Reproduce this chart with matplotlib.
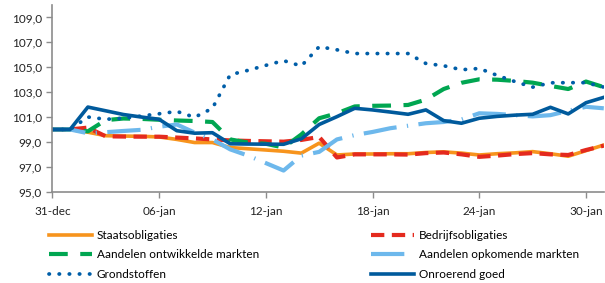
import matplotlib

matplotlib.use("Agg")
import matplotlib.pyplot as plt

# days since 31-dec
days = list(range(32))
tick_days = [0, 6, 12, 18, 24, 30]
tick_labels = ["31-dec", "06-jan", "12-jan", "18-jan", "24-jan", "30-jan"]

staatsobligaties = [100.0, 100.0, 99.78, 99.5, 99.47, 99.45, 99.4, 99.2, 98.95, 98.95,
                    98.55, 98.45, 98.35, 98.25, 98.1, 98.9, 97.95, 98.03, 98.03, 98.05,
                    98.05, 98.15, 98.2, 98.1, 97.95, 98.05, 98.12, 98.22, 98.05, 97.85,
                    98.3, 98.75]
bedrijfsobligaties = [100.0, 100.0, 100.15, 99.45, 99.43, 99.42, 99.42, 99.35, 99.28, 99.2,
                      99.12, 99.08, 99.05, 99.02, 99.16, 99.4, 97.75, 98.0, 98.0, 98.0,
                      97.98, 98.1, 98.15, 98.0, 97.8, 97.9, 98.02, 98.1, 98.0, 97.95,
                      98.35, 98.7]
aandelen_ontwikkeld = [100.0, 100.0, 99.85, 100.75, 100.88, 100.85, 100.78, 100.72, 100.68, 100.6,
                       99.2, 98.95, 98.85, 98.55, 99.6, 100.9, 101.3, 101.85, 101.9, 101.92,
                       101.97, 102.4, 103.25, 103.75, 104.03, 104.0, 103.9, 103.76, 103.5, 103.25,
                       103.85, 103.4]
aandelen_opkomend = [100.0, 100.0, 99.7, 99.78, 99.88, 99.97, 100.22, 100.4, 99.75, 99.2,
                     98.4, 97.9, 97.3, 96.7, 97.9, 98.2, 99.2, 99.55, 99.8, 100.1,
                     100.3, 100.5, 100.6, 100.8, 101.3, 101.25, 101.15, 101.05, 101.15, 101.5,
                     101.82, 101.7]
grondstoffen = [100.0, 100.0, 101.0, 100.82, 100.9, 101.08, 101.26, 101.45, 100.98, 101.7,
                104.4, 104.75, 105.15, 105.53, 105.1, 106.65, 106.4, 106.1, 106.1, 106.1,
                106.1, 105.3, 105.12, 104.8, 104.9, 104.35, 103.85, 103.4, 103.75, 103.76,
                103.76, 103.4]
onroerend_goed = [100.0, 100.0, 101.8, 101.5, 101.2, 101.0, 100.82, 99.9, 99.7, 99.74,
                  98.85, 98.83, 98.82, 98.81, 99.25, 100.4, 101.03, 101.7, 101.57, 101.4,
                  101.22, 101.57, 100.71, 100.5, 100.9, 101.05, 101.15, 101.22, 101.78, 101.25,
                  102.15, 102.58]

plt.rcParams["font.family"] = ["Lato", "DejaVu Sans"]
FS = 8.5

fig = plt.figure(figsize=(6.05, 2.83), dpi=100)
ax = fig.add_axes([52.3 / 605, 1 - 191.7 / 283, 551.5 / 605, 186.7 / 283])

l_staat, = ax.plot(days, staatsobligaties, color="#F7941D", lw=2.6, solid_joinstyle="round",
                   label="Staatsobligaties")
l_bedr, = ax.plot(days, bedrijfsobligaties, color="#E42A1E", lw=3, linestyle=(0, (3.2, 1.8)),
                  label="Bedrijfsobligaties")
l_ontw, = ax.plot(days, aandelen_ontwikkeld, color="#00A651", lw=3, linestyle=(0, (4.5, 3)),
                  label="Aandelen ontwikkelde markten")
l_opk, = ax.plot(days, aandelen_opkomend, color="#6DB8EC", lw=3,
                 linestyle=(0, (8, 2.5, 0.3, 2.5)), label="Aandelen opkomende markten")
l_grond, = ax.plot(days, grondstoffen, color="#005EA8", lw=2.7, linestyle=(0, (0.1, 2.6)),
                   dash_capstyle="round", label="Grondstoffen")
l_onr, = ax.plot(days, onroerend_goed, color="#005A9C", lw=2.6, solid_joinstyle="round",
                 label="Onroerend goed")

ax.set_xlim(0, 31)
ax.set_ylim(95, 110)
ax.set_yticks([95, 97, 99, 101, 103, 105, 107, 109])
ax.set_yticklabels([f"{v:.1f}".replace(".", ",") for v in range(95, 110, 2)])
ax.set_xticks(tick_days)
ax.set_xticklabels(tick_labels)

for side in ("top", "right"):
    ax.spines[side].set_visible(False)
for side in ("left", "bottom"):
    ax.spines[side].set_color("#8C8C8C")
    ax.spines[side].set_linewidth(1.2)
ax.tick_params(colors="#8C8C8C", labelcolor="#222222", labelsize=FS, length=4, width=1)
ax.tick_params(axis="x", pad=6)

# two separate legends, rows read left to right as in the original
leg_kw = dict(loc="upper left", frameon=False, fontsize=FS, handlelength=3.65,
              handletextpad=0.4, labelspacing=0.72, borderaxespad=0, borderpad=0)
fig.legend(handles=[l_staat, l_ontw, l_grond],
           bbox_to_anchor=(49 / 605, 1 - 230 / 283), **leg_kw)
fig.legend(handles=[l_bedr, l_opk, l_onr],
           bbox_to_anchor=(371 / 605, 1 - 230 / 283), **leg_kw)

fig.savefig("out.png", dpi=100)
